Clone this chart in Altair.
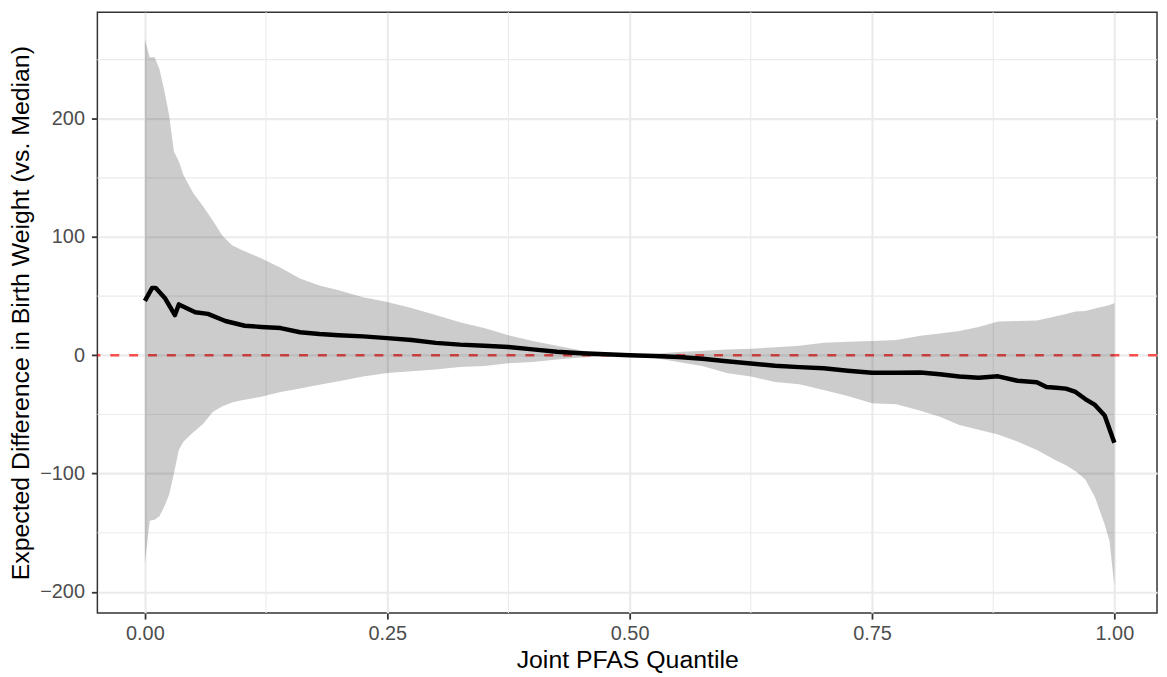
import altair as alt
import pandas as pd

# ---- data ----
band_q = [0.0, 0.005, 0.01, 0.015, 0.02, 0.025, 0.03, 0.035, 0.04, 0.05, 0.06, 0.07, 0.08, 0.09,
          0.10, 0.12, 0.14, 0.16, 0.18, 0.20, 0.225, 0.25, 0.275, 0.30, 0.325, 0.35, 0.375, 0.40,
          0.425, 0.45, 0.475, 0.50, 0.525, 0.55, 0.575, 0.60, 0.625, 0.65, 0.675, 0.70, 0.725,
          0.75, 0.775, 0.80, 0.82, 0.84, 0.86, 0.88, 0.90, 0.92, 0.94, 0.95, 0.96, 0.97, 0.98,
          0.99, 0.995, 1.0]
band_hi = [267, 252, 252, 242, 224, 203, 172, 164, 152, 137, 126, 114, 101, 93,
           89, 82, 74, 65, 59, 55, 49, 45, 40, 34, 28, 23, 17, 12,
           8, 4, 1, 0.3, 1.2, 2.8, 3.8, 4.8, 5.6, 6.8, 8, 10.5, 11.5,
           12, 13, 16.5, 18.5, 20.5, 24, 28.5, 29, 29.5, 33, 35, 37, 37.5, 39.5,
           41.5, 42.5, 44]
band_lo = [-176, -140, -139, -136, -128, -118, -100, -80, -73, -65, -58, -48, -43, -40,
           -38, -35, -31, -28, -25, -22, -18, -15, -13.5, -12, -10, -9, -6.8, -5.6,
           -3.5, -1.8, -0.8, -0.3, -2, -5.6, -9, -15, -18, -22.5, -24.5, -29.4, -34.5,
           -40.5, -41.5, -47, -52, -59, -63, -67, -73, -80, -89, -93, -98, -105, -120,
           -143, -157, -195]

line_q = [0.0, 0.0075, 0.011, 0.021, 0.031, 0.035, 0.052, 0.065, 0.083, 0.103, 0.12, 0.14,
          0.16, 0.18, 0.20, 0.225, 0.25, 0.275, 0.30, 0.325, 0.35, 0.375, 0.40, 0.425, 0.45,
          0.475, 0.50, 0.525, 0.55, 0.575, 0.60, 0.625, 0.65, 0.675, 0.70, 0.725, 0.75, 0.775,
          0.80, 0.82, 0.84, 0.86, 0.88, 0.90, 0.92, 0.93, 0.94, 0.95, 0.96, 0.97, 0.98, 0.99, 1.0]
line_v = [46, 57, 57, 48, 34, 43, 36.4, 35, 29, 25, 24, 23,
          19.5, 18, 17, 16, 14.5, 13, 10.5, 9, 8, 7, 5, 3, 1.8,
          0.8, 0, -0.6, -1.4, -3, -5, -7, -8.8, -10, -11, -13, -14.8, -14.8,
          -14.5, -16, -18, -19, -17.8, -21.5, -22.8, -26.8, -27.5, -28.2, -31, -37, -42, -51, -74]

x_ticks = [0, 0.25, 0.5, 0.75, 1.0]
y_ticks = [-200, -100, 0, 100, 200]
x_minor = [0.125, 0.375, 0.625, 0.875]
y_minor = [-150, -50, 50, 150, 250]
ref_y = [0]

band_df = pd.DataFrame({"q": band_q, "lo": band_lo, "hi": band_hi})
line_df = pd.DataFrame({"q": line_q, "v": line_v})
xminor_df = pd.DataFrame({"q": x_minor})
yminor_df = pd.DataFrame({"v": y_minor})
ref_df = pd.DataFrame({"v": ref_y})

FONT = "Liberation Sans"
xs = alt.Scale(domain=[-0.049, 1.044], nice=False, zero=False)
ys = alt.Scale(domain=[-218, 290], nice=False, zero=False)

common_axis = dict(
    grid=True, gridColor="#EBEBEB", gridWidth=2.2, domain=False,
    tickColor="#333333", tickSize=6, tickWidth=1.8,
    labelFont=FONT, labelFontSize=20, labelColor="#4D4D4D",
    titleFont=FONT, titleFontSize=25, titleFontWeight="normal", titleColor="black",
)

xaxis = alt.Axis(values=x_ticks, format=".2f", title="Joint PFAS Quantile",
                 labelBaseline="alphabetic", labelPadding=21,
                 titleBaseline="alphabetic", titleY=55, **common_axis)
yaxis = alt.Axis(values=y_ticks, format="d", title="Expected Difference in Birth Weight (vs. Median)",
                 labelPadding=7, titleBaseline="alphabetic", titleX=-69, **common_axis)

X = lambda f: alt.X(f, scale=xs, axis=xaxis)
Y = lambda f: alt.Y(f, scale=ys, axis=yaxis)

minor_x = alt.Chart(xminor_df).mark_rule(color="#EBEBEB", strokeWidth=1.1).encode(x=X("q:Q"))
minor_y = alt.Chart(yminor_df).mark_rule(color="#EBEBEB", strokeWidth=1.1).encode(y=Y("v:Q"))

hline = alt.Chart(ref_df).mark_rule(color="red", opacity=0.67, strokeWidth=2.5,
                                    strokeDash=[9, 10]).encode(y=Y("v:Q"))

band = alt.Chart(band_df).mark_area(color="black", opacity=0.2).encode(
    x=X("q:Q"), y=Y("lo:Q"), y2="hi:Q")

line = alt.Chart(line_df).mark_line(color="black", strokeWidth=4.5, strokeJoin="round").encode(
    x=X("q:Q"), y=Y("v:Q"))

chart = alt.layer(minor_x, minor_y, hline, band, line).properties(
    width=1067, height=605,
    padding={"left": 90, "top": 2, "right": 2, "bottom": 62},
    autosize=alt.AutoSizeParams(type="none"),
).configure_view(stroke="#333333", strokeWidth=1.5)

chart.save("out.html", embed_options={"renderer": "svg", "actions": False})
